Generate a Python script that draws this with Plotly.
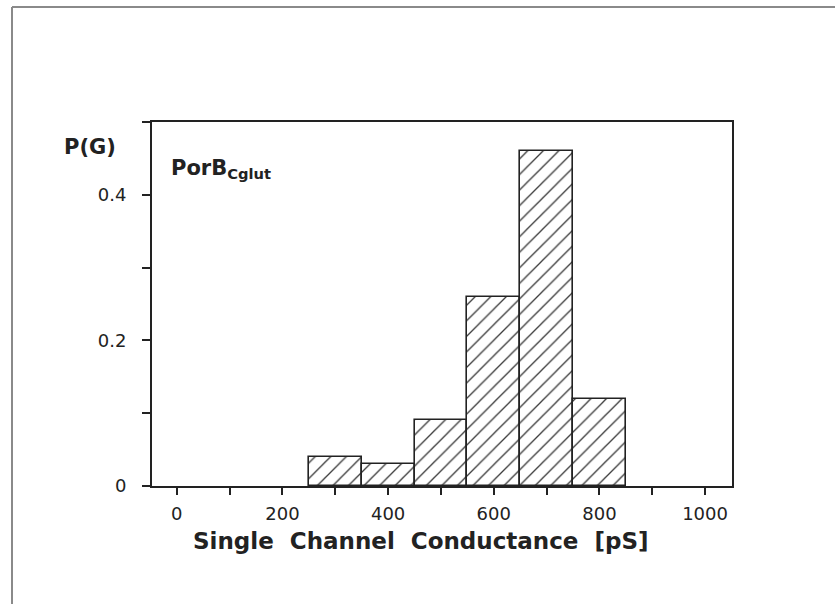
import plotly.graph_objects as go

# Histogram of single channel conductance (bin left edges in pS, bin width 100 pS)
bin_left = [250, 350, 450, 550, 650, 750]
bin_width = 100
p_values = [0.04, 0.03, 0.09, 0.26, 0.46, 0.12]

x_tick_vals = [0, 200, 400, 600, 800, 1000]
x_tick_text = ["0", "200", "400", "600", "800", "1000"]
y_tick_vals = [0, 0.2, 0.4]
y_tick_text = ["0", "0.2", "0.4"]

W, H = 835, 604
L, R, T, B = 152, 103, 122, 118
plot_w = W - L - R
plot_h = H - T - B


def px_x(x):
    return (x - L) / plot_w


def px_y(y):
    return (H - B - y) / plot_h


INK = "#222222"
NB = "\u00a0"

centers = [b + bin_width / 2 for b in bin_left]

fig = go.Figure(
    go.Bar(
        x=centers,
        y=p_values,
        width=[bin_width] * len(bin_left),
        marker=dict(
            color="white",
            line=dict(color=INK, width=1.6),
            pattern=dict(shape="/", fgcolor="#3a3a3a", bgcolor="white",
                         size=11, solidity=0.12, fillmode="replace"),
        ),
        hoverinfo="x+y",
    )
)

tick_font = dict(family="DejaVu Sans", size=18, color=INK)

fig.update_xaxes(
    range=[-47, 1051],
    tickmode="array", tickvals=x_tick_vals, ticktext=x_tick_text,
    ticks="outside", ticklen=7, tickwidth=1.6, tickcolor=INK,
    minor=dict(tick0=0, dtick=100, ticks="outside", ticklen=7,
               tickwidth=1.6, tickcolor=INK),
    showline=True, linecolor=INK, linewidth=2, mirror=True,
    showgrid=False, zeroline=False, tickfont=tick_font,
    ticklabelstandoff=3,
)
fig.update_yaxes(
    range=[0, 0.5],
    tickmode="array", tickvals=y_tick_vals, ticktext=y_tick_text,
    ticks="outside", ticklen=8, tickwidth=1.6, tickcolor=INK,
    minor=dict(tick0=0, dtick=0.1, ticks="outside", ticklen=8,
               tickwidth=1.6, tickcolor=INK),
    showline=True, linecolor=INK, linewidth=2, mirror=True,
    showgrid=False, zeroline=False, tickfont=tick_font,
    ticklabelstandoff=12,
)

fig.add_annotation(
    xref="paper", yref="paper", x=px_x(62), y=px_y(147),
    xanchor="left", yanchor="middle", showarrow=False,
    text="P(G)", font=dict(family="DejaVu Sans", size=21, color=INK, weight="bold"),
)
fig.add_annotation(
    xref="paper", yref="paper", x=px_x(169), y=px_y(169),
    xanchor="left", yanchor="middle", showarrow=False,
    text="PorB<sub>Cglut</sub>",
    font=dict(family="DejaVu Sans", size=21, color=INK, weight="bold"),
)
fig.add_annotation(
    xref="paper", yref="paper", x=px_x(421), y=px_y(541),
    xanchor="center", yanchor="middle", showarrow=False,
    text=(NB * 2).join(["Single", "Channel", "Conductance", "[pS]"]),
    font=dict(family="DejaVu Sans", size=23, color=INK, weight="bold"),
)

# Page frame lines (top and left edges)
fig.add_shape(type="line", xref="paper", yref="paper",
              x0=px_x(12), x1=px_x(W + 2), y0=px_y(7), y1=px_y(7),
              line=dict(color="#8a8a8a", width=2))
fig.add_shape(type="line", xref="paper", yref="paper",
              x0=px_x(12), x1=px_x(12), y0=px_y(7), y1=px_y(H + 2),
              line=dict(color="#8a8a8a", width=2))

fig.update_layout(
    width=W, height=H,
    margin=dict(l=L, r=R, t=T, b=B),
    paper_bgcolor="white", plot_bgcolor="white",
    showlegend=False, bargap=0,
)

fig.write_html("out.html")
